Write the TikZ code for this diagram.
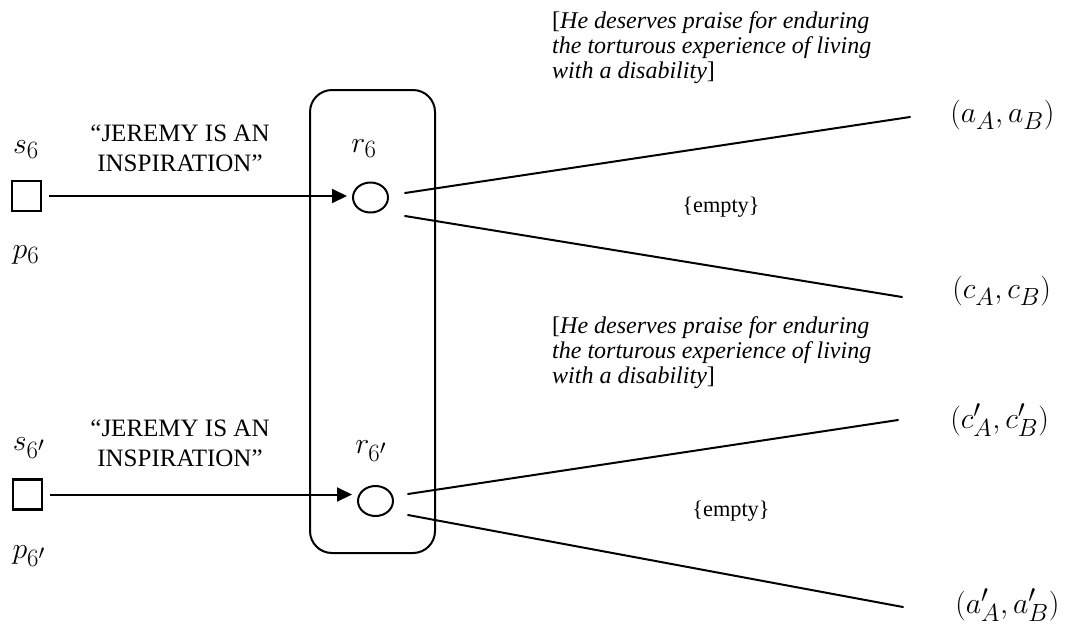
\documentclass[tikz,border=0pt]{standalone}
\usepackage{fontspec}
\setmainfont{Liberation Serif}
\usetikzlibrary{arrows.meta,shapes.geometric}

\tikzset{
  edgeline/.style={line width=2pt, line cap=round},
  sender/.style={draw, line width=2.2pt, minimum width=29pt, minimum height=30pt, inner sep=0pt},
  receiver/.style={draw, ellipse, line width=2pt, minimum width=35pt, minimum height=30pt, inner sep=0pt},
  msgarrow/.style={line width=2pt, -{Triangle[length=15pt,width=14pt]}, shorten <=7pt, shorten >=5pt},
  mathlbl/.style={inner sep=0pt, font=\fontsize{24.88}{28}\selectfont, scale=1.2},
  payoff/.style={inner sep=0pt, anchor=west, font=\fontsize{24.88}{28}\selectfont, scale=1.2},
  quote/.style={inner sep=0pt, anchor=north, align=center, font=\fontsize{25}{30}\selectfont},
  gloss/.style={inner sep=0pt, anchor=north west, align=left, font=\fontsize{24}{25}\selectfont},
  emptyset/.style={inner sep=0pt, font=\fontsize{22.3}{26}\selectfont},
}

\begin{document}
\begin{tikzpicture}[x=1pt, y=-1pt]
\useasboundingbox (0,0) rectangle (1065,625);

% receiver frame
\node[draw, line width=2pt, rounded corners=22pt, minimum width=125pt, minimum height=463pt, inner sep=0pt] (frame) at (372.5,321.5) {};

% upper game: sender, message, receiver
\node[sender] (sq1) at (26.5,196) {};
\node[receiver] (c1) at (370.5,197.5) {};
\node[mathlbl, anchor=base] (s1) at (26,153) {$s_6$};
\node[mathlbl, anchor=base] (p1) at (26,258) {$p_6$};
\node[mathlbl, anchor=base] (r1) at (364,152) {$r_6$};
\node[quote] (m1) at (180,125) {“JEREMY IS AN\\INSPIRATION”};
\draw[msgarrow] (sq1.east) -- (sq1.east -| c1.west);

% lower game
\node[sender] (sq2) at (27.5,494.5) {};
\node[receiver] (c2) at (375.5,501) {};
\node[mathlbl, anchor=base] (s2) at (29,450) {$s_{6'}$};
\node[mathlbl, anchor=base] (p2) at (29,558) {$p_{6'}$};
\node[mathlbl, anchor=base] (r2) at (371,453) {$r_{6'}$};
\node[quote] (m2) at (180,420) {“JEREMY IS AN\\INSPIRATION”};
\draw[msgarrow] (sq2.east) -- (sq2.east -| c2.west);

% interpretations
\node[gloss] (g1) at (552,11) {[\textit{He deserves praise for enduring}\\\textit{the torturous experience of living}\\\textit{with a disability}]};
\node[gloss] (g2) at (552,316) {[\textit{He deserves praise for enduring}\\\textit{the torturous experience of living}\\\textit{with a disability}]};
\node[emptyset] (e1) at (721,207) {\{empty\}};
\node[emptyset] (e2) at (731,511) {\{empty\}};

% outcomes
\node[payoff] (o1) at (950,115) {$(a_A, a_B)$};
\node[payoff] (o2) at (952,291) {$(c_A, c_B)$};
\node[payoff] (o3) at (950,420) {$(c'_A, c'_B)$};
\node[payoff] (o4) at (955,605) {$(a'_A, a'_B)$};

% branches
\coordinate (b1s) at (405,193);
\coordinate (b1e) at (910,117);
\coordinate (b2s) at (405,216);
\coordinate (b2e) at (902,297);
\coordinate (b3s) at (408,494);
\coordinate (b3e) at (898,420);
\coordinate (b4s) at (408,515);
\coordinate (b4e) at (903,607);
\draw[edgeline] (b1s) -- (b1e);
\draw[edgeline] (b2s) -- (b2e);
\draw[edgeline] (b3s) -- (b3e);
\draw[edgeline] (b4s) -- (b4e);
\end{tikzpicture}
\end{document}
